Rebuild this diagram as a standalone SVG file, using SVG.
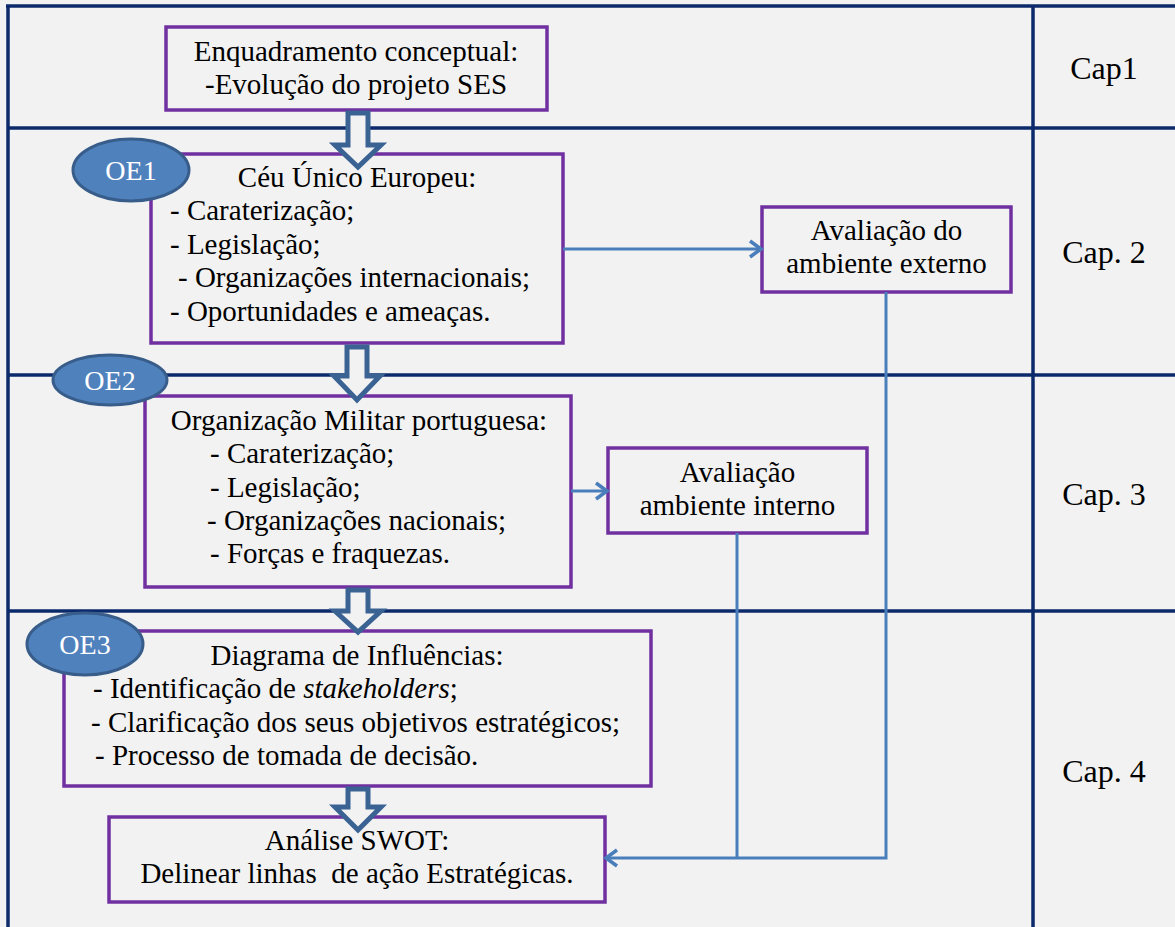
<svg xmlns="http://www.w3.org/2000/svg" width="1175" height="927" viewBox="0 0 1175 927">
<defs>
<style>
.bg{fill:#f2f2f2}
.frame{stroke:#0b2a6b;stroke-width:3.5;fill:none}
.box{fill:#f2f2f2;stroke:#7030a0;stroke-width:3.5}
.t{font-family:"Liberation Serif","Times New Roman",serif;font-size:29px;fill:#000}
.c{text-anchor:middle}
.cap{font-family:"Liberation Serif","Times New Roman",serif;font-size:32px;fill:#000;text-anchor:middle}
.oe{fill:#4f81bd;stroke:#385d8a;stroke-width:3}
.oet{font-family:"Liberation Serif","Times New Roman",serif;font-size:28px;fill:#fff;text-anchor:middle}
.big{fill:#f2f2f2;stroke:#3a6394;stroke-width:5;stroke-linejoin:miter}
.con{fill:none;stroke:#4a7ebb;stroke-width:3}
</style>
<marker id="ah" markerUnits="userSpaceOnUse" markerWidth="16" markerHeight="20" viewBox="0 0 16 20" refX="13" refY="10" orient="auto">
<path d="M2,2 L13,10 L2,18" fill="none" stroke="#4a7ebb" stroke-width="3.5"/>
</marker>
</defs>
<rect class="bg" x="0" y="0" width="1175" height="927"/>
<g id="frame">
<line class="frame" x1="6" y1="6" x2="1175" y2="6"/>
<line class="frame" x1="8" y1="5" x2="8" y2="927"/>
<line class="frame" x1="8" y1="128" x2="1175" y2="128"/>
<line class="frame" x1="8" y1="375" x2="1175" y2="375"/>
<line class="frame" x1="8" y1="611" x2="1175" y2="611"/>
<line class="frame" x1="1033" y1="5" x2="1033" y2="927"/>
</g>
<g id="caps">
<text class="cap" x="1104" y="79">Cap1</text>
<text class="cap" x="1104" y="263">Cap. 2</text>
<text class="cap" x="1104" y="505">Cap. 3</text>
<text class="cap" x="1104" y="782">Cap. 4</text>
</g>
<g id="n-enquadramento">
<rect class="box" x="166" y="27" width="381" height="83"/>
<text class="t c" x="356" y="61">Enquadramento conceptual:</text>
<text class="t c" x="356" y="94">-Evolução do projeto SES</text>
</g>
<g id="n-ceu">
<rect class="box" x="151" y="154" width="412" height="189"/>
<text class="t c" x="357" y="187">Céu Único Europeu:</text>
<text class="t" x="170" y="220">- Caraterização;</text>
<text class="t" x="170" y="254">- Legislação;</text>
<text class="t" x="178" y="287">- Organizações internacionais;</text>
<text class="t" x="170" y="321">- Oportunidades e ameaças.</text>
</g>
<g id="n-oe1">
<ellipse class="oe" cx="131" cy="170" rx="58" ry="31"/>
<text class="oet" x="131" y="180">OE1</text>
</g>
<g id="n-externo">
<rect class="box" x="762" y="207" width="249" height="85"/>
<text class="t c" x="886.5" y="240">Avaliação do</text>
<text class="t c" x="886.5" y="273">ambiente externo</text>
</g>
<g id="n-militar">
<rect class="box" x="145" y="396" width="426" height="191"/>
<text class="t c" x="359" y="430">Organização Militar portuguesa:</text>
<text class="t" x="210" y="463">- Caraterização;</text>
<text class="t" x="210" y="497">- Legislação;</text>
<text class="t" x="207" y="530">- Organizações nacionais;</text>
<text class="t" x="210" y="563">- Forças e fraquezas.</text>
</g>
<g id="n-oe2">
<ellipse class="oe" cx="110" cy="380" rx="57" ry="25"/>
<text class="oet" x="110" y="390">OE2</text>
</g>
<g id="n-interno">
<rect class="box" x="608" y="448" width="259" height="85"/>
<text class="t c" x="737.5" y="482">Avaliação</text>
<text class="t c" x="737.5" y="515">ambiente interno</text>
</g>
<g id="n-diagrama">
<rect class="box" x="64" y="631" width="587" height="155"/>
<text class="t c" x="357" y="665">Diagrama de Influências:</text>
<text class="t" x="93" y="698">- Identificação de <tspan font-style="italic">stakeholders</tspan>;</text>
<text class="t" x="91" y="732">- Clarificação dos seus objetivos estratégicos;</text>
<text class="t" x="95" y="765">- Processo de tomada de decisão.</text>
</g>
<g id="n-oe3">
<ellipse class="oe" cx="85" cy="644" rx="58" ry="31"/>
<text class="oet" x="85" y="654">OE3</text>
</g>
<g id="n-swot">
<rect class="box" x="109" y="817" width="496" height="85"/>
<text class="t c" x="357" y="850">Análise SWOT:</text>
<text class="t c" x="357" y="883" xml:space="preserve">Delinear linhas  de ação Estratégicas.</text>
</g>
<g id="connectors">
<path class="big" d="M348,113 L368,113 L368,145 L381,145 L358,167 L335,145 L348,145 Z"/>
<path class="big" d="M347,347 L367,347 L367,376 L380,376 L357,400 L334,376 L347,376 Z"/>
<path class="big" d="M348,590 L368,590 L368,611 L381,611 L358,632 L335,611 L348,611 Z"/>
<path class="big" d="M348,789 L368,789 L368,807 L381,807 L358,830 L335,807 L348,807 Z"/>
<path class="con" d="M563,249 L761,249" marker-end="url(#ah)"/>
<path class="con" d="M571,491 L607,491" marker-end="url(#ah)"/>
<path class="con" d="M886,292 L886,858 L606,858" marker-end="url(#ah)"/>
<path class="con" d="M737,533 L737,858"/>
</g>
</svg>
